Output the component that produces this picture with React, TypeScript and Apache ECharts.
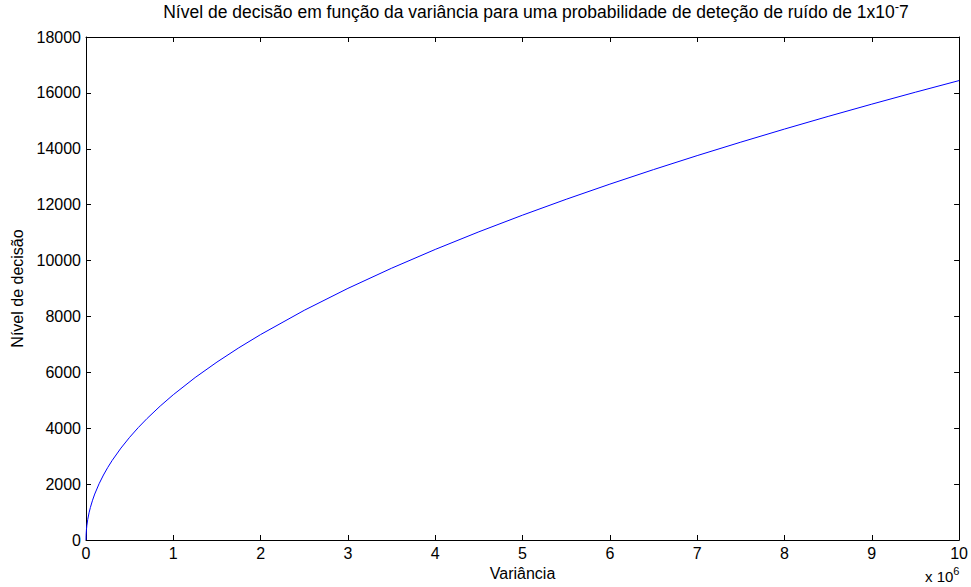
import React, { useEffect, useRef } from "react";
import * as echarts from "echarts";

// Variance (in units of 1e6) and the corresponding decision level
const variance: number[] = [
  0, 0.001, 0.005, 0.01, 0.02, 0.035, 0.05, 0.075, 0.1, 0.15, 0.2, 0.25, 0.3,
  0.4, 0.5, 0.6, 0.7, 0.85, 1, 1.25, 1.5, 1.75, 2, 2.5, 3, 3.5, 4, 4.5, 5, 5.5,
  6, 6.5, 7, 7.5, 8, 8.5, 9, 9.5, 10,
];
const decisionLevel: number[] = [
  0, 164, 368, 520, 735, 973, 1163, 1424, 1644, 2014, 2325, 2600, 2848, 3288,
  3676, 4027, 4350, 4793, 5199, 5813, 6367, 6878, 7352, 8220, 9005, 9726,
  10398, 11029, 11625, 12193, 12735, 13255, 13755, 14238, 14705, 15158, 15597,
  16025, 16441,
];

const FONT = "'Liberation Sans', Arial, sans-serif";
const FS = 16;

export default function App() {
  const ref = useRef<HTMLDivElement>(null);

  useEffect(() => {
    if (!ref.current) return;
    const chart = echarts.init(ref.current, undefined, { renderer: "svg" });
    const points = variance.map((v, i) => [v, decisionLevel[i]]);

    // Box-style frame: every side has its own axis line with inward ticks
    const axisLine = () => ({ show: true, onZero: false, lineStyle: { color: "#000", width: 1 } });
    const tick = () => ({ show: true, inside: true, length: 5, lineStyle: { color: "#000", width: 1 } });

    chart.setOption({
      animation: false,
      backgroundColor: "#fff",
      textStyle: { fontFamily: FONT },
      title: {
        text: "Nível de decisão em função da variância para uma probabilidade de deteção de ruído de 1x10{sup|-}7",
        left: 536,
        top: 0,
        padding: 0,
        textAlign: "center",
        textStyle: {
          fontFamily: FONT,
          fontSize: 17.5,
          lineHeight: 24,
          fontWeight: "normal",
          color: "#000",
          rich: {
            sup: { fontFamily: FONT, fontSize: 13, lineHeight: 12, color: "#000", verticalAlign: "top" },
          },
        },
      },
      grid: { left: 86, right: 9, top: 37, bottom: 47, containLabel: false },
      xAxis: [
        {
          type: "value",
          min: 0,
          max: 10,
          interval: 1,
          name: "Variância",
          nameLocation: "middle",
          nameGap: 25,
          nameTextStyle: { fontFamily: FONT, fontSize: FS, color: "#000" },
          axisLine: axisLine(),
          axisTick: tick(),
          axisLabel: { fontFamily: FONT, fontSize: FS, color: "#000", margin: 5 },
          splitLine: { show: false },
        },
        {
          type: "value",
          position: "top",
          min: 0,
          max: 10,
          interval: 1,
          axisLine: axisLine(),
          axisTick: tick(),
          axisLabel: { show: false },
          splitLine: { show: false },
        },
      ],
      yAxis: [
        {
          type: "value",
          min: 0,
          max: 18000,
          interval: 2000,
          name: "Nível de decisão",
          nameLocation: "middle",
          nameGap: 60,
          nameRotate: 90,
          nameTextStyle: { fontFamily: FONT, fontSize: FS, color: "#000" },
          axisLine: axisLine(),
          axisTick: tick(),
          axisLabel: { fontFamily: FONT, fontSize: FS, color: "#000", margin: 5, formatter: (v: number) => String(v) },
          splitLine: { show: false },
        },
        {
          type: "value",
          position: "right",
          min: 0,
          max: 18000,
          interval: 2000,
          axisLine: axisLine(),
          axisTick: tick(),
          axisLabel: { show: false },
          splitLine: { show: false },
        },
      ],
      graphic: [
        {
          type: "text",
          left: 925,
          top: 565,
          style: {
            text: "x 10{sup|6}",
            fontFamily: FONT,
            fontSize: 15,
            lineHeight: 22,
            fill: "#000",
            rich: {
              sup: { fontFamily: FONT, fontSize: 11, lineHeight: 11, fill: "#000", verticalAlign: "top" },
            },
          },
        },
      ],
      series: [
        {
          type: "line",
          data: points,
          showSymbol: false,
          smooth: false,
          lineStyle: { color: "#0000ff", width: 1 },
          itemStyle: { color: "#0000ff" },
        },
      ],
    });

    return () => chart.dispose();
  }, []);

  return (
    <div
      ref={ref}
      style={{ position: "fixed", left: 0, top: 0, width: 971, height: 587 }}
    />
  );
}
